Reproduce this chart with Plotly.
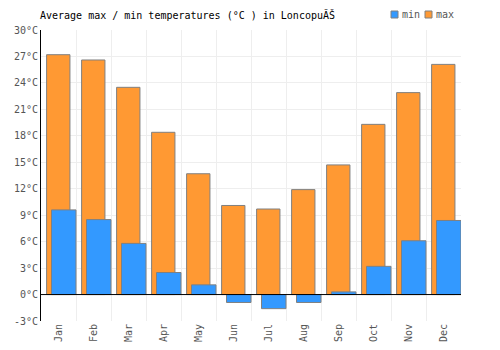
import plotly.graph_objects as go

months = ["Jan", "Feb", "Mar", "Apr", "May", "Jun", "Jul", "Aug", "Sep", "Oct", "Nov", "Dec"]
max_temps = [27.2, 26.6, 23.5, 18.4, 13.7, 10.1, 9.7, 11.9, 14.7, 19.3, 22.9, 26.1]
min_temps = [9.6, 8.5, 5.8, 2.5, 1.1, -0.9, -1.6, -0.9, 0.3, 3.2, 6.1, 8.4]
y_ticks = [-3, 0, 3, 6, 9, 12, 15, 18, 21, 24, 27, 30]
y_labels = [f"{v}°C" for v in y_ticks]

FONT = "DejaVu Sans Mono"
MAX_COLOR = "#ff9933"
MIN_COLOR = "#3399ff"
EDGE = "#808080"

fig = go.Figure()
fig.add_trace(go.Bar(
    x=months, y=max_temps, name="max",
    marker=dict(color=MAX_COLOR, line=dict(color=EDGE, width=1)),
    width=0.667, offset=-0.34,
))
fig.add_trace(go.Bar(
    x=months, y=min_temps, name="min",
    marker=dict(color=MIN_COLOR, line=dict(color=EDGE, width=1)),
    width=0.7, offset=-0.2,
))

fig.add_shape(type="line", xref="paper", x0=0, x1=1, y0=0, y1=0,
              line=dict(color="black", width=1), layer="above")

# legend drawn as small squares + text
W, H = 500, 350
legend_items = [("min", MIN_COLOR, 391), ("max", MAX_COLOR, 425)]
for name, color, px in legend_items:
    fig.add_shape(type="rect", xref="paper", yref="paper",
                  x0=(px - 41) / 420, x1=(px + 7 - 41) / 420,
                  y0=(321 - 18) / 291, y1=(321 - 11) / 291,
                  fillcolor=color, line=dict(color=EDGE, width=1), layer="above")
    fig.add_annotation(text=name, xref="paper", yref="paper",
                       x=(px + 9 - 41) / 420, y=(321 - 15) / 291,
                       xanchor="left", yanchor="middle", showarrow=False,
                       font=dict(family=FONT, size=10, color="#555555"))

fig.update_layout(
    width=W, height=H,
    margin=dict(l=41, r=39, t=30, b=29, autoexpand=False),
    barmode="overlay",
    paper_bgcolor="white", plot_bgcolor="white",
    font=dict(family=FONT, size=10, color="#555555"),
    title=dict(text="Average max / min temperatures (°C ) in LoncopuĂŠ",
               x=40/500, xanchor="left", y=1-15/350, yanchor="middle",
               font=dict(family=FONT, size=10, color="black")),
    showlegend=False,
    xaxis=dict(type="category", range=[-0.5, 11.5], tickangle=-90,
               showgrid=True, gridcolor="#eeeeee", tickson="boundaries",
               ticks="", showline=False, zeroline=False, automargin=False),
    yaxis=dict(range=[-3, 30], tickvals=y_ticks, ticktext=y_labels,
               showgrid=True, gridcolor="#eeeeee", zeroline=False,
               showline=True, linecolor="black", linewidth=1, ticks="",
               automargin=False),
)

fig.write_html("out.html")
